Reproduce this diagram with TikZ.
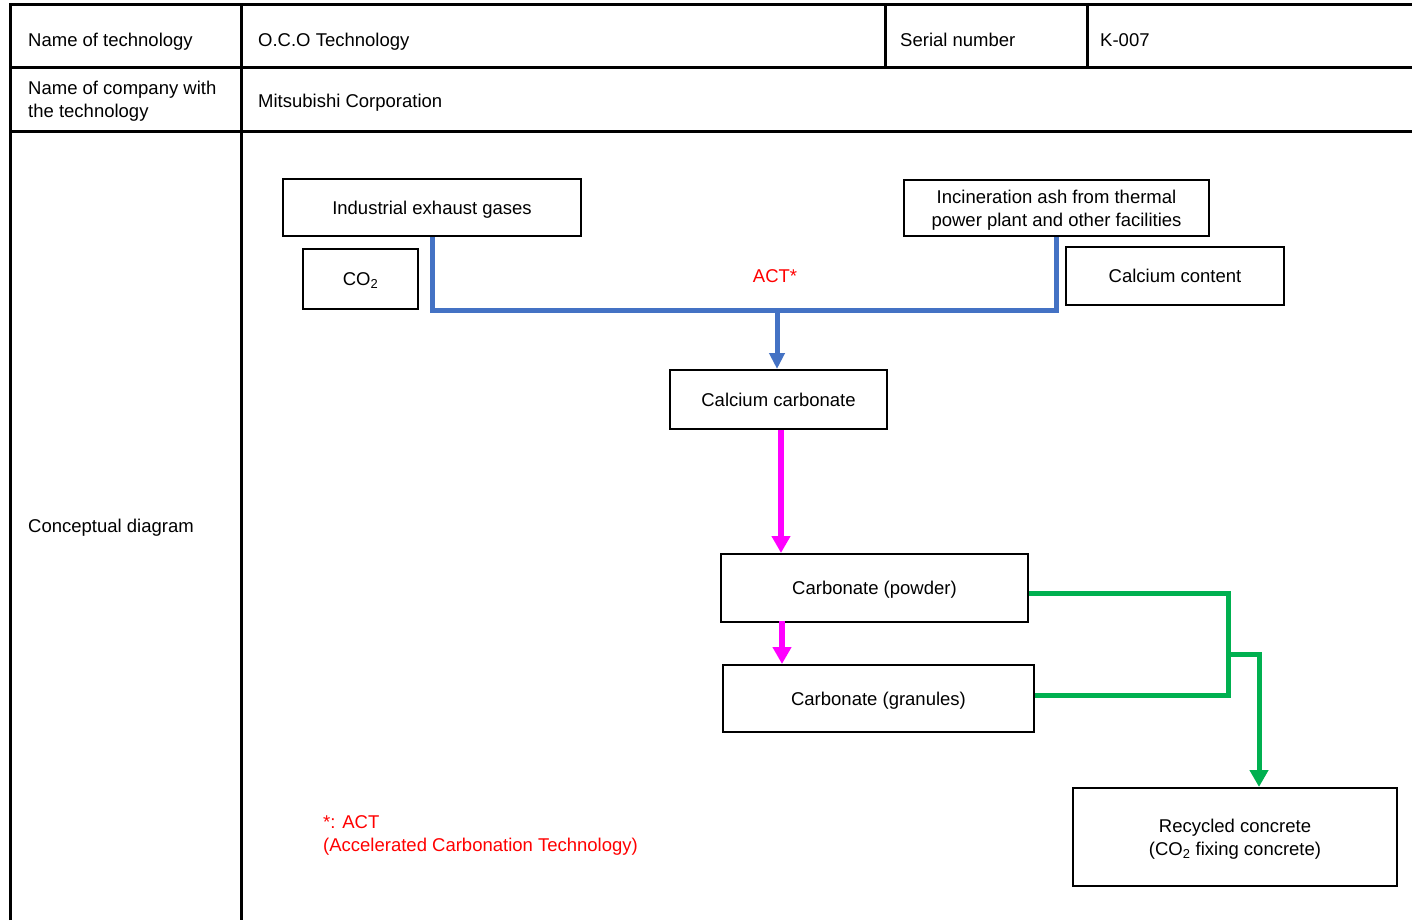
\documentclass[tikz,border=0pt]{standalone}
\usepackage{fontspec}
\setmainfont{Liberation Sans}
\usetikzlibrary{arrows.meta}
\definecolor{flowblue}{HTML}{4472C4}
\definecolor{flowmag}{HTML}{FF00FF}
\definecolor{flowgreen}{HTML}{00B050}
\definecolor{notered}{HTML}{FF0000}
\begin{document}
\begin{tikzpicture}[x=1pt,y=-1pt,
  every node/.style={font=\fontsize{18.5}{23}\selectfont, inner sep=0pt},
  grid/.style={line width=3pt, black},
  cell/.style={anchor=base west, align=left},
  flowbox/.style={draw=black, line width=2pt, fill=white, align=center, text depth=0pt},
  bluearrow/.style={line width=5pt, flowblue},
  magarrow/.style={line width=6pt, flowmag, -{Triangle[length=17pt,width=18pt]}},
  greenarrow/.style={line width=5pt, flowgreen},
  rednote/.style={text=notered, align=left}]
\useasboundingbox (0,0) rectangle (1412,920);

% table rules
\draw[grid] (10,920) -- (10,5) -- (1412,5);
\draw[grid] (10,68) -- (1412,68);
\draw[grid] (10,131.5) -- (1412,131.5);
\draw[grid] (241,5) -- (241,920);
\draw[grid] (885,5) -- (885,68);
\draw[grid] (1087,5) -- (1087,68);

% table entries
\node[cell] (lname) at (28,47) {Name of technology};
\node[cell] (vname) at (258,47) {O.C.O Technology};
\node[cell] (lser) at (900,47) {Serial number};
\node[cell] (vser) at (1100,47) {K-007};
\node[anchor=west, align=left] (lcomp) at (28,101.5) {Name of company with\\the technology};
\node[cell] (vcomp) at (258,108) {Mitsubishi Corporation};
\node[cell] (ldiag) at (28,532.5) {Conceptual diagram};

% process boxes
\node[flowbox, minimum width=298pt, minimum height=57pt] (ieg) at (432,207.5) {Industrial exhaust gases};
\node[flowbox, minimum width=115pt, minimum height=60pt] (co2) at (360.5,279) {CO\textsubscript{2}};
\node[flowbox, minimum width=305pt, minimum height=56pt] (ash) at (1056.5,208) {Incineration ash from thermal\\power plant and other facilities};
\node[flowbox, minimum width=218pt, minimum height=58pt] (cal) at (1175,276) {Calcium content};
\node[flowbox, minimum width=217pt, minimum height=59pt] (caco3) at (778.5,399.5) {Calcium carbonate};
\node[flowbox, minimum width=307pt, minimum height=68pt] (powd) at (874.5,588) {Carbonate (powder)};
\node[flowbox, minimum width=311pt, minimum height=67pt] (gran) at (878.5,698.5) {Carbonate (granules)};
\node[flowbox, minimum width=324pt, minimum height=98pt] (conc) at (1235,837) {Recycled concrete\\(CO\textsubscript{2} fixing concrete)};

\node[text=notered] (act) at (775,276.5) {ACT*};
\node[rednote, anchor=west] (actnote) at (323,835.5) {*: ACT\\(Accelerated Carbonation Technology)};

% joining points of the connectors
\coordinate (bus) at (777,310);
\coordinate (m1) at (781,0);
\coordinate (m2) at (782,0);
\coordinate (g1) at (1228,593);
\coordinate (g2) at (1228,695);
\coordinate (g3) at (1228,654);
\coordinate (g4) at (1259,0);

% carbonation feed (blue)
\draw[bluearrow, line join=miter] (ieg.south) |- (bus) -| (ash.south);
\draw[bluearrow, -{Triangle[length=16pt,width=15pt]}] (bus) -- (caco3.north -| bus);

% carbonate processing (magenta)
\draw[magarrow] (caco3.south -| m1) -- (powd.north -| m1);
\draw[magarrow] ([yshift=2pt]powd.south -| m2) -- (gran.north -| m2);

% use in concrete (green)
\draw[greenarrow, line join=miter] (powd.east |- g1) -- (g1) -- (g2) -- (gran.east |- g2);
\draw[greenarrow, line join=miter, -{Triangle[length=17pt,width=18pt]}] (g3) -| (conc.north -| g4);
\end{tikzpicture}
\end{document}
